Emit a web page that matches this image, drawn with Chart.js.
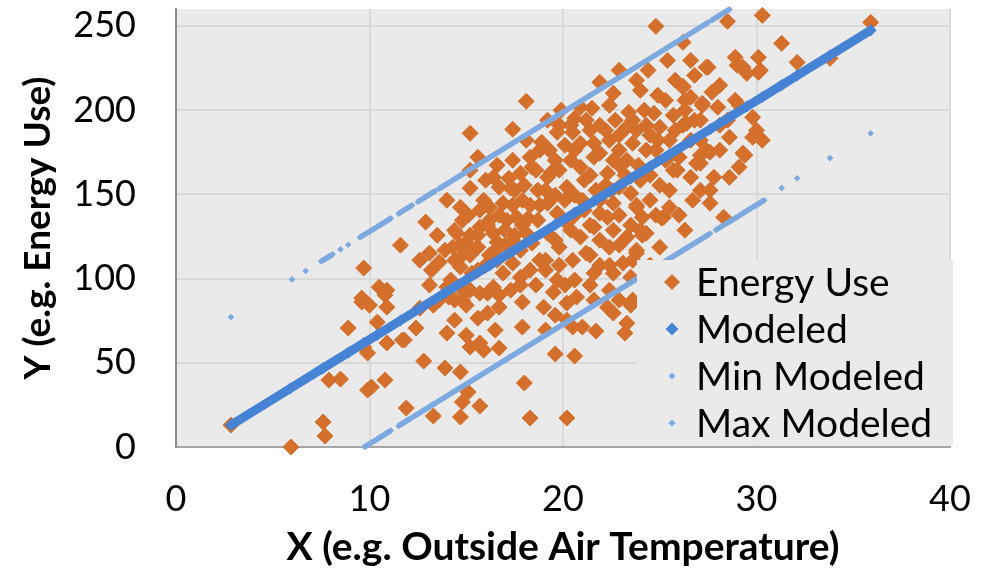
<!DOCTYPE html>
<html lang="en">
<head>
<meta charset="UTF-8">
<title>Energy Use vs Outside Air Temperature</title>
<script src="https://cdn.jsdelivr.net/npm/chart.js"></script>
<style>
  html, body { margin: 0; padding: 0; background: #fff; }
  #wrap { width: 986px; height: 572px; position: relative; }
</style>
</head>
<body>
<div id="wrap"><canvas id="grafico"></canvas></div>
<script>
// Measured points: outside air temperature (x) and energy use (y)
const energyX = [
  2.84, 5.94, 7.6, 7.7, 8.9, 7.9, 8.5, 9.9, 10.1, 10.8, 9.9, 9.7, 10.9, 11.7, 10.4, 9.6, 10.0, 10.9, 10.8, 11.9, 11.6, 9.7, 10.5, 9.6,
  12.4, 11.8, 14.0, 15.0, 15.2, 15.7, 15.9, 16.7, 12.8, 13.9, 14.7, 15.1, 14.8, 15.7, 14.7, 13.3, 18.0, 18.3, 20.2, 19.6,
  20.6, 17.9, 19.0, 19.6, 20.5, 21.7, 22.3, 23.2, 23.5, 20.7, 19.5, 17.9, 16.7, 15.6, 15.0, 16.1, 14.9, 14.1, 13.3, 12.6,
  18.1, 15.2, 17.4, 15.6, 15.2, 14.7, 12.9, 12.6, 13.6, 13.1, 10.9, 14.5, 15.0, 15.7, 15.9, 16.4, 16.2, 16.9, 16.6, 17.3,
  17.4, 18.4, 18.1, 18.9, 19.3, 19.7, 20.5, 21.2, 20.9, 21.9, 22.9, 22.6, 22.4, 21.6, 21.9, 22.4, 22.9, 22.6, 23.3, 23.6,
  23.3, 24.0, 23.8, 24.9, 24.7, 25.0, 25.5, 24.3, 24.9, 26.2, 26.6, 27.2, 27.5, 28.1, 29.0, 29.5, 30.2, 29.8, 28.6, 30.0,
  30.3, 29.3, 29.1, 28.6, 27.8, 27.6, 27.6, 26.7, 27.1, 27.4, 28.0, 26.4, 26.0, 25.7, 26.6, 25.5, 25.2, 25.0, 24.3, 24.1,
  23.8, 23.5, 22.9, 22.6, 22.3, 22.6, 23.3, 23.8, 23.1, 22.6, 23.5, 22.9, 23.6, 22.6, 21.6, 20.2, 19.7, 17.8, 18.8, 19.8,
  20.5, 21.2, 21.6, 20.9, 21.6, 21.9, 22.4, 20.2, 19.7, 19.2, 18.4, 17.8, 17.4, 16.9, 16.4, 15.7, 15.3, 14.7, 14.0, 14.8,
  16.1, 20.2, 21.0, 23.3, 17.6, 17.9, 18.7, 19.2, 19.8, 20.4, 20.9, 20.2, 20.9, 21.6, 22.3, 21.0, 19.2, 18.7, 18.1, 17.1,
  16.4, 15.6, 14.3, 14.8, 15.7, 16.7, 17.8, 18.3, 18.8, 16.2,
  24.8, 30.3, 28.5, 35.9, 26.2, 31.3, 32.1, 30.1, 28.9, 29.3, 30.1, 27.4, 26.2, 27.2, 25.7, 26.2, 24.3, 23.8, 29.8, 27.1,
  27.6, 33.8, 29.4, 26.9, 25.9, 24.5, 23.8, 25.1, 24.1, 23.8, 28.3,
  19.6, 20.1, 20.6, 21.4, 21.9, 22.2, 21.7, 21.1, 20.6, 19.6, 19.1, 18.3, 17.5, 17.0, 16.2, 15.2, 14.4, 13.9, 15.2, 16.0,
  18.3, 19.1, 19.8, 20.6, 21.9, 22.9, 23.5, 24.5, 25.0, 25.5, 26.0, 24.5, 27.1, 26.6, 28.1,
  14.0, 14.4, 15.1, 15.6, 16.1, 16.5, 17.0, 17.4, 17.9, 17.5, 16.7, 14.8, 13.5, 13.2, 14.2,
  19.2, 19.9, 20.4, 19.4, 20.1, 21.4, 21.9, 22.5, 23.2, 23.9, 23.4, 22.7, 21.1, 20.4, 19.6,
  24.4, 25.3, 25.8, 26.8, 26.3, 27.1, 25.3, 24.5, 28.1, 28.9,
  17.3, 18.6, 21.4, 22.4, 19.1, 16.5, 14.4,
  15.2, 16.0, 16.6, 17.2, 18.0, 18.6, 18.8, 18.2, 17.4, 16.6, 15.6, 14.7,
  19.8, 20.6, 21.5, 22.2, 22.9, 23.6, 24.2, 24.8, 24.0, 22.9, 20.6, 21.4, 21.9, 22.9, 24.0, 24.8,
  25.4, 26.6, 27.7, 28.5, 29.1, 26.3, 26.8, 25.8, 27.1, 26.3,
  17.8, 19.1, 20.1, 21.4, 22.4, 23.6, 16.7, 15.2, 13.6, 13.1, 14.4
];
const energyY = [
  13.0, 0, 14.8, 6.5, 70.6, 39.7, 40.3, 33.8, 35.6, 39.7, 55.8, 59.3, 61.7, 63.5, 74.1, 86.0, 84.2, 83.0, 90.2, 23.1, 119.8, 106.2, 94.9, 88.4,
  70.6, 63.5, 67.6, 66.4, 59.3, 61.7, 57.5, 58.7, 51.0, 46.9, 44.5, 32.6, 26.7, 24.3, 17.8, 18.4, 38.0, 17.2, 17.2, 55.2,
  54.0, 71.2, 83.0, 78.3, 71.2, 68.8, 83.0, 67.6, 84.2, 89.0, 91.9, 86.0, 83.0, 76.5, 84.2, 91.3, 91.9, 89.0, 84.2, 82.4,
  205.2, 186.2, 188.6, 172.0, 153.6, 142.3, 133.5, 110.9, 109.7, 115.1, 93.1, 126.9, 121.6, 130.5, 146.5, 160.1, 142.3, 144.7, 121.6, 153.6,
  170.2, 166.1, 182.1, 180.9, 176.2, 186.8, 186.8, 194.0, 201.7, 216.5, 223.6, 210.0, 202.8, 180.3, 174.4, 182.1, 176.2, 170.2, 170.2, 180.3,
  189.8, 211.7, 217.7, 208.8, 198.1, 189.8, 182.1, 176.2, 182.1, 213.5, 207.6, 204.0, 225.4, 214.7, 226.6, 221.8, 223.6, 195.7, 183.9, 188.0,
  182.1, 174.4, 166.1, 160.1, 160.1, 152.4, 144.7, 146.5, 168.4, 176.2, 201.7, 192.2, 172.0, 164.3, 160.1, 142.3, 136.4, 118.6, 126.9, 136.4,
  142.3, 150.7, 154.2, 144.7, 136.4, 128.7, 124.6, 115.1, 109.1, 103.2, 100.8, 87.2, 87.2, 79.5, 87.2, 85.4, 99.1, 100.8, 110.9, 118.6,
  110.9, 115.1, 103.2, 124.6, 130.5, 138.8, 118.6, 132.9, 138.8, 126.9, 121.0, 116.8, 109.1, 103.2, 94.9, 91.3, 103.2, 106.8, 94.9, 87.2,
  79.5, 75.3, 71.2, 73.5, 136.4, 146.5, 152.4, 160.1, 164.3, 170.2, 166.1, 154.2, 180.3, 172.0, 162.5, 146.5, 144.7, 134.6, 126.9, 134.6,
  126.9, 118.6, 118.6, 134.6, 140.6, 154.2, 162.5, 172.0, 176.2, 134.6,
  249.7, 256.2, 252.7, 252.1, 240.2, 239.6, 228.3, 231.3, 231.3, 225.4, 222.4, 225.4, 214.1, 202.8, 196.9, 191.0, 191.0, 188.0, 183.9, 173.2,
  175.0, 230.7, 173.2, 168.4, 164.3, 161.3, 143.5, 135.8, 125.7, 116.8, 136.4,
  170.2, 179.1, 176.2, 188.0, 191.0, 155.4, 152.4, 158.4, 149.5, 149.5, 152.4, 143.5, 125.7, 119.8, 113.9, 125.7, 110.9, 116.8, 113.9, 107.9,
  105.0, 110.9, 107.9, 99.1, 107.9, 137.6, 131.7, 146.5, 155.4, 152.4, 137.6, 107.9, 194.0, 182.1, 176.2,
  146.5, 128.7, 137.6, 125.7, 131.7, 116.8, 128.7, 143.5, 131.7, 152.4, 137.6, 113.9, 125.7, 105.0, 99.1,
  194.0, 199.9, 191.0, 163.1, 146.5, 161.3, 146.5, 152.4, 161.3, 167.3, 198.7, 194.0, 140.6, 128.7, 122.8,
  223.6, 205.8, 217.7, 220.6, 199.9, 182.1, 170.2, 185.1, 191.0, 205.8,
  93.1, 96.1, 96.1, 93.1, 69.4, 69.4, 75.3,
  164.3, 158.4, 167.3, 159.5, 155.4, 164.3, 143.5, 135.8, 122.8, 110.9, 105.0, 119.8,
  191.0, 195.1, 201.1, 188.0, 185.1, 194.0, 199.9, 176.2, 158.4, 167.3, 137.6, 131.7, 122.8, 119.8, 128.7, 137.6,
  229.5, 229.5, 210.6, 194.0, 202.8, 205.8, 194.0, 188.0, 152.4, 128.7,
  96.1, 105.0, 96.1, 113.9, 107.9, 110.9, 90.2, 93.1, 87.2, 96.1, 87.2
];

// Fitted line
const modeledX = [2.84, 5.9, 7.6, 8.9, 9.7, 10.4, 11.6, 12.6, 13.9, 15.0, 16.2, 17.4, 18.3, 19.6, 20.6,
  21.6, 22.6, 23.5, 24.5, 25.5, 26.6, 27.6, 28.6, 29.5, 30.3, 31.3, 32.1, 33.8, 35.9];
const modeledY = [13.0, 34.7, 46.8, 56.0, 61.7, 66.6, 75.1, 82.2, 91.5, 99.3, 107.8, 116.3, 122.6, 131.9, 139.0,
  146.0, 153.1, 159.5, 166.6, 173.7, 181.5, 188.6, 195.7, 202.1, 207.7, 214.8, 220.5, 232.5, 247.4];

// Lower band (null separates runs of points)
const minX = [9.75, 10.3, null, 10.4, 11.1, null, 11.5, 12.1, null, 12.2, 13.4, null, 13.5, 14.1, null,
  14.2, 27.6, null, 27.9, 29.0, null, 29.1, 29.7, null, 29.8, 30.4, null, 31.3, null, 32.1, null, 33.8, null, 35.9];
const minY = [0.1, 4.0, null, 4.7, 9.7, null, 12.5, 16.8, null, 17.5, 26.0, null, 26.7, 31.0, null,
  31.7, 126.7, null, 128.8, 136.6, null, 137.3, 141.6, null, 142.3, 146.5, null, 153.8, null, 159.5, null, 171.5, null, 186.2];

// Upper band
const maxX = [2.84, null, 6.0, null, 6.7, null, 7.5, 8.1, null, 8.5, null, 8.9, null, 9.5, 10.3, null,
  10.4, 11.1, null, 11.5, 12.2, null, 12.5, 13.4, null, 13.6, 27.5, null, 27.7, 28.6];
const maxY = [77.1, null, 99.5, null, 104.5, null, 110.2, 114.4, null, 117.3, null, 120.1, null, 124.4, 130.0, null,
  130.7, 135.7, null, 138.5, 143.5, null, 145.6, 152.0, null, 153.4, 252.0, null, 253.4, 259.8];

const seriesNames = ['Energy Use', 'Modeled', 'Min Modeled', 'Max Modeled'];
const xTickValues = [0, 10, 20, 30, 40];
const yTickValues = [0, 50, 100, 150, 200, 250];

const toPoints = (xs, ys) => xs.map((x, i) => ({ x: x, y: ys[i] }));

const FONT = 'Lato, "Open Sans", sans-serif';
const ORANGE = '#D4702C';
const BLUE = '#4783D5';
const LIGHT_BLUE = '#7EA9DF';

// no extra room around the scales: the plot box is fixed
function fixBox(scale, prop, size) {
  scale[prop] = size;
  scale.paddingTop = 0;
  scale.paddingBottom = 0;
  scale.paddingLeft = 0;
  scale.paddingRight = 0;
}

// gray plot area behind the grid
const plotBackground = {
  id: 'plotBackground',
  beforeDraw(chart) {
    const { ctx, chartArea: a } = chart;
    ctx.save();
    ctx.fillStyle = '#EAEAEA';
    ctx.fillRect(a.left, a.top, a.right - a.left, a.bottom - a.top);
    ctx.restore();
  }
};

// legend box drawn over the lower right of the plot
const boxLegend = {
  id: 'boxLegend',
  afterDraw(chart) {
    const ctx = chart.ctx;
    const sizes = [8, 6.5, 3.5, 3.5];
    ctx.save();
    ctx.fillStyle = '#EAEAEA';
    ctx.fillRect(637, 260, 316, 185);
    chart.data.datasets.forEach((ds, i) => {
      const cy = 282 + i * 47;
      const r = sizes[i];
      ctx.beginPath();
      ctx.moveTo(672 - r, cy);
      ctx.lineTo(672, cy - r);
      ctx.lineTo(672 + r, cy);
      ctx.lineTo(672, cy + r);
      ctx.closePath();
      ctx.fillStyle = ds.pointBackgroundColor;
      ctx.fill();
      ctx.fillStyle = '#000';
      ctx.font = '39px ' + FONT;
      ctx.textBaseline = 'middle';
      ctx.textAlign = 'left';
      ctx.fillText(ds.label, 696, cy + 1);
    });
    ctx.restore();
  }
};

const ctx = document.getElementById('grafico').getContext('2d');
const chart = new Chart(ctx, {
  type: 'scatter',
  data: {
    datasets: [
      {
        label: seriesNames[0],
        data: toPoints(energyX, energyY),
        pointStyle: 'rectRot',
        pointRadius: 8,
        pointBorderWidth: 1,
        pointBackgroundColor: ORANGE,
        pointBorderColor: ORANGE,
        borderColor: ORANGE,
        clip: false,
        order: 4
      },
      {
        label: seriesNames[1],
        data: toPoints(modeledX, modeledY),
        showLine: true,
        borderColor: BLUE,
        borderWidth: 9,
        pointStyle: 'rectRot',
        pointRadius: 6,
        pointBorderWidth: 0,
        pointBackgroundColor: BLUE,
        clip: false,
        order: 3
      },
      {
        label: seriesNames[2],
        data: toPoints(minX, minY),
        showLine: true,
        spanGaps: false,
        borderColor: LIGHT_BLUE,
        borderWidth: 5.5,
        pointStyle: 'rectRot',
        pointRadius: 3.3,
        pointBorderWidth: 0,
        pointBackgroundColor: LIGHT_BLUE,
        clip: false,
        order: 2
      },
      {
        label: seriesNames[3],
        data: toPoints(maxX, maxY),
        showLine: true,
        spanGaps: false,
        borderColor: LIGHT_BLUE,
        borderWidth: 5.5,
        pointStyle: 'rectRot',
        pointRadius: 3.3,
        pointBorderWidth: 0,
        pointBackgroundColor: LIGHT_BLUE,
        clip: false,
        order: 1
      }
    ]
  },
  options: {
    responsive: true,
    maintainAspectRatio: false,
    animation: false,
    layout: { padding: { top: 9, right: 36, bottom: 0, left: 0 } },
    plugins: {
      legend: { display: false },
      tooltip: { enabled: false }
    },
    scales: {
      x: {
        type: 'linear',
        min: 0,
        max: 40,
        afterFit: (scale) => fixBox(scale, 'height', 125),
        afterBuildTicks: (scale) => { scale.ticks = xTickValues.map(v => ({ value: v })); },
        grid: { color: '#D9D9D9', lineWidth: 2, drawTicks: false },
        border: { color: '#A6A6A6', width: 2 },
        ticks: { color: '#000', padding: 31, font: { family: FONT, size: 36 } },
        title: {
          display: true,
          text: 'X (e.g. Outside Air Temperature)',
          color: '#000',
          padding: { top: 0, bottom: 1 },
          font: { family: FONT, size: 39, weight: 'bold' }
        }
      },
      y: {
        type: 'linear',
        min: 0,
        max: 260,
        afterFit: (scale) => fixBox(scale, 'width', 176),
        afterBuildTicks: (scale) => { scale.ticks = yTickValues.map(v => ({ value: v })); },
        grid: { color: '#D9D9D9', lineWidth: 2, drawTicks: false },
        border: { color: '#8C8C8C', width: 2 },
        ticks: { color: '#000', padding: 40, font: { family: FONT, size: 36 } },
        title: {
          display: true,
          text: 'Y (e.g. Energy Use)',
          color: '#000',
          padding: { top: 16, bottom: 0 },
          font: { family: FONT, size: 37, weight: 'bold' }
        }
      }
    }
  },
  plugins: [plotBackground, boxLegend]
});
</script>
</body>
</html>
